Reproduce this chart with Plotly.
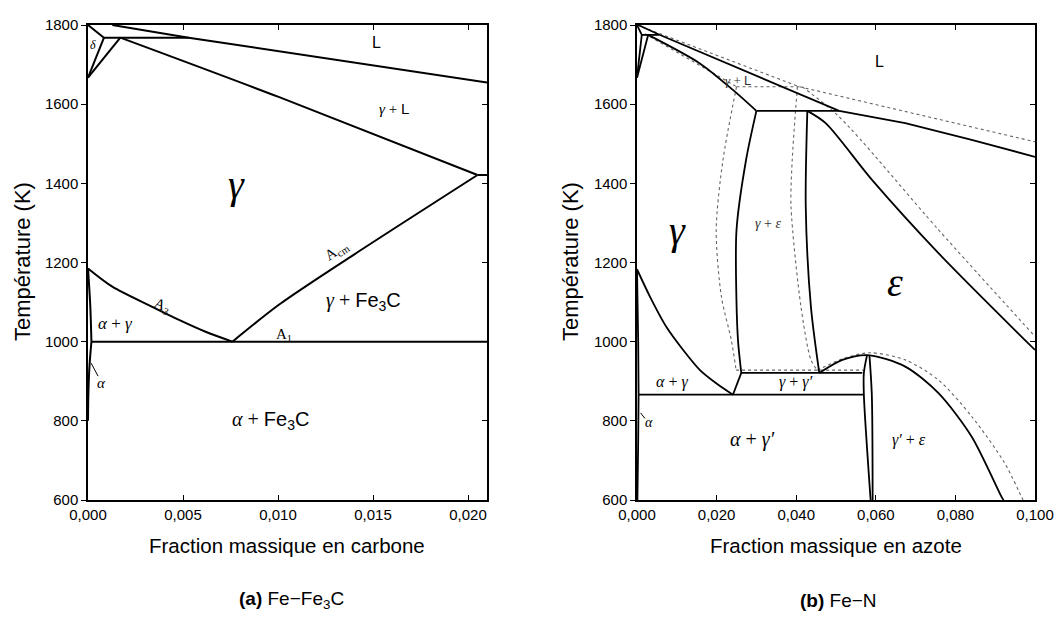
import plotly.graph_objects as go

# ---------------- Data: (a) Fe-Fe3C ----------------
a_liq_x = [0.00128, 0.0053, 0.0210]; a_liq_T = [1800, 1768, 1655]
a_dL_x = [0.0, 0.00084]; a_dL_T = [1800, 1768]
a_peri_x = [0.00084, 0.0053]; a_peri_T = [1768, 1768]
a_dg_x = [0.0, 0.00084]; a_dg_T = [1667, 1768]
a_gd_x = [0.0, 0.0017]; a_gd_T = [1667, 1768]
a_sol_x = [0.0017, 0.0101, 0.0205]; a_sol_T = [1768, 1617, 1421]
a_eut_x = [0.0205, 0.0210]; a_eut_T = [1421, 1421]
a_A3_x = [0.0, 0.00128, 0.00338, 0.00479, 0.00619, 0.0076]
a_A3_T = [1185, 1139, 1088, 1055, 1025, 1000]
a_Acm_x = [0.0076, 0.0101, 0.0140, 0.0205]; a_Acm_T = [1000, 1095, 1220, 1421]
a_A1_x = [0.00018, 0.0210]; a_A1_T = [1000, 1000]
a_ag_x = [0.0, 0.00012, 0.00018]; a_ag_T = [1185, 1090, 1000]
a_asolv_x = [0.00018, 0.00008, 0.00002, 0.0]; a_asolv_T = [1000, 940, 870, 800]

# ---------------- Data: (b) Fe-N ----------------
b_liq_x = [0.0003, 0.0055, 0.0508, 0.0674, 0.0841, 0.1000]
b_liq_T = [1800, 1776, 1583, 1552, 1510, 1467]
b_dL_x = [0.0, 0.0012]; b_dL_T = [1800, 1775]
b_peri1_x = [0.0012, 0.0055]; b_peri1_T = [1775, 1775]
b_dg_x = [0.0, 0.0012]; b_dg_T = [1667, 1775]
b_gd_x = [0.0, 0.0028]; b_gd_T = [1667, 1775]
b_sol_x = [0.0028, 0.0158, 0.0241, 0.0300]; b_sol_T = [1775, 1703, 1636, 1583]
b_peri2_x = [0.0300, 0.0508]; b_peri2_T = [1583, 1583]
b_ge_x = [0.0300, 0.0274, 0.0250, 0.0250, 0.0254, 0.0262]
b_ge_T = [1583, 1459, 1282, 1100, 1000, 921]
b_ggp_x = [0.0262, 0.0241]; b_ggp_T = [921, 866]
b_ga_x = [0.0, 0.00325, 0.0074, 0.0116, 0.01575, 0.0199, 0.0241]
b_ga_T = [1183, 1114, 1037, 979, 929, 895, 866]
b_ag_x = [0.0, 0.0003, 0.0004]; b_ag_T = [1183, 1000, 866]
b_asolv_x = [0.0004, 0.0003, 0.0001]; b_asolv_T = [866, 750, 600]
b_eutd_x = [0.0004, 0.0570]; b_eutd_T = [866, 866]
b_h921_x = [0.0262, 0.0566]; b_h921_T = [921, 921]
b_el_x = [0.0428, 0.0424, 0.0437, 0.0458]; b_el_T = [1583, 1341, 1088, 921]
b_er_x = [0.0428, 0.0474, 0.0591, 0.0758, 0.1000]; b_er_T = [1583, 1552, 1408, 1223, 979]
b_dome_x = [0.0458, 0.0516, 0.0580, 0.0674, 0.07575, 0.0841, 0.0916, 0.0921]
b_dome_T = [921, 954, 966, 937, 870, 760, 608, 600]
b_gp1_x = [0.0578, 0.0570, 0.0570, 0.0587]; b_gp1_T = [966, 921, 866, 600]
b_gp2_x = [0.0584, 0.0590, 0.0592]; b_gp2_T = [966, 866, 600]

# dotted (alternative model)
d_liq_x = [0.0, 0.0408, 0.1000]; d_liq_T = [1800, 1644, 1505]
d_sol_x = [0.0020, 0.0250]; d_sol_T = [1778, 1644]
d_peri_x = [0.0250, 0.0408]; d_peri_T = [1644, 1644]
d_ge_x = [0.0250, 0.0216, 0.0199, 0.0212, 0.0237, 0.0249]
d_ge_T = [1644, 1459, 1282, 1114, 1004, 928]
d_el_x = [0.0403, 0.0390, 0.0387, 0.0412, 0.0437, 0.0453]
d_el_T = [1644, 1459, 1341, 1088, 954, 928]
d_er_x = [0.0415, 0.0508, 0.0758, 0.1000]; d_er_T = [1644, 1568, 1282, 1013]
d_h928_x = [0.0249, 0.0568]; d_h928_T = [928, 928]
d_dome_x = [0.0453, 0.0520, 0.0585, 0.0674, 0.07575, 0.0841, 0.0924, 0.0966, 0.0970]
d_dome_T = [928, 958, 972, 954, 903, 811, 693, 608, 600]

y_ticks = [600, 800, 1000, 1200, 1400, 1600, 1800]
y_ticktext = [str(v) for v in y_ticks]
a_xticks = [0.0, 0.005, 0.010, 0.015, 0.020]
a_xticktext = ["0,000", "0,005", "0,010", "0,015", "0,020"]
b_xticks = [0.0, 0.02, 0.04, 0.06, 0.08, 0.10]
b_xticktext = ["0,000", "0,020", "0,040", "0,060", "0,080", "0,100"]

fig = go.Figure()

def solid(x, y, xa, ya, shape="spline", w=2):
    fig.add_trace(go.Scatter(x=x, y=y, mode="lines", xaxis=xa, yaxis=ya,
                             line=dict(color="black", width=w, shape=shape, smoothing=0.8),
                             hoverinfo="skip", showlegend=False))

def dotted(x, y, xa, ya, shape="spline"):
    fig.add_trace(go.Scatter(x=x, y=y, mode="lines", xaxis=xa, yaxis=ya,
                             line=dict(color="#666666", width=1.1, dash="dot", shape=shape, smoothing=0.8),
                             hoverinfo="skip", showlegend=False))

# panel a
for xs, ts, sh in [(a_liq_x, a_liq_T, "linear"), (a_dL_x, a_dL_T, "linear"), (a_peri_x, a_peri_T, "linear"),
                   (a_dg_x, a_dg_T, "linear"), (a_gd_x, a_gd_T, "linear"), (a_sol_x, a_sol_T, "spline"),
                   (a_eut_x, a_eut_T, "linear"), (a_A3_x, a_A3_T, "spline"), (a_Acm_x, a_Acm_T, "spline"),
                   (a_A1_x, a_A1_T, "linear"), (a_ag_x, a_ag_T, "spline"), (a_asolv_x, a_asolv_T, "spline")]:
    solid(xs, ts, "x", "y", sh)

# panel b dotted first
for xs, ts, sh in [(d_liq_x, d_liq_T, "linear"), (d_sol_x, d_sol_T, "linear"), (d_peri_x, d_peri_T, "linear"),
                   (d_ge_x, d_ge_T, "spline"), (d_el_x, d_el_T, "spline"), (d_er_x, d_er_T, "spline"),
                   (d_h928_x, d_h928_T, "linear"), (d_dome_x, d_dome_T, "spline")]:
    dotted(xs, ts, "x2", "y2", sh)

for xs, ts, sh in [(b_liq_x, b_liq_T, "linear"), (b_dL_x, b_dL_T, "linear"), (b_peri1_x, b_peri1_T, "linear"),
                   (b_dg_x, b_dg_T, "linear"), (b_gd_x, b_gd_T, "linear"), (b_sol_x, b_sol_T, "spline"),
                   (b_peri2_x, b_peri2_T, "linear"), (b_ge_x, b_ge_T, "spline"), (b_ggp_x, b_ggp_T, "linear"),
                   (b_ga_x, b_ga_T, "spline"), (b_ag_x, b_ag_T, "spline"), (b_asolv_x, b_asolv_T, "spline"),
                   (b_eutd_x, b_eutd_T, "linear"), (b_h921_x, b_h921_T, "linear"), (b_el_x, b_el_T, "spline"),
                   (b_er_x, b_er_T, "spline"), (b_dome_x, b_dome_T, "spline"), (b_gp1_x, b_gp1_T, "spline"),
                   (b_gp2_x, b_gp2_T, "spline")]:
    solid(xs, ts, "x2", "y2", sh, w=1.8)

# dummy traces so right-side tick axes render
fig.add_trace(go.Scatter(x=[None], y=[None], xaxis="x", yaxis="y3", showlegend=False, hoverinfo="skip"))
fig.add_trace(go.Scatter(x=[None], y=[None], xaxis="x2", yaxis="y4", showlegend=False, hoverinfo="skip"))

SANS = "Liberation Sans, Arial, sans-serif"
SERIF = "Liberation Serif, Times New Roman, serif"
yd = [1 - 500 / 621, 1 - 25 / 621]
common_x = dict(ticks="inside", ticklen=5, tickwidth=1, tickcolor="black", mirror="ticks",
                showline=True, linecolor="black", linewidth=1.5, showgrid=False, zeroline=False,
                automargin=False, tickfont=dict(family=SANS, size=15, color="black"))
common_y = dict(ticks="outside", ticklen=5, tickwidth=1, tickcolor="black", mirror=True,
                showline=True, linecolor="black", linewidth=1.5, showgrid=False, zeroline=False,
                automargin=False, range=[600, 1800], tickvals=y_ticks, ticktext=y_ticktext,
                tickfont=dict(family=SANS, size=15, color="black"))
right_ticks = dict(ticks="inside", ticklen=5, tickwidth=1, tickcolor="black", showline=False,
                   showgrid=False, zeroline=False, automargin=False, range=[600, 1800], tickvals=y_ticks,
                   showticklabels=False, side="right")

fig.update_layout(
    width=1059, height=621, margin=dict(l=0, r=0, t=0, b=0, autoexpand=False),
    paper_bgcolor="white", plot_bgcolor="white", showlegend=False,
    xaxis=dict(domain=[88 / 1059, 487 / 1059], range=[0, 0.021], tickvals=a_xticks, ticktext=a_xticktext,
               anchor="y", **common_x),
    yaxis=dict(domain=yd, anchor="x", **common_y),
    xaxis2=dict(domain=[637 / 1059, 1035 / 1059], range=[0, 0.100], tickvals=b_xticks, ticktext=b_xticktext,
                anchor="y2", **common_x),
    yaxis2=dict(domain=yd, anchor="x2", **common_y),
    yaxis3=dict(overlaying="y", anchor="x", **right_ticks),
    yaxis4=dict(overlaying="y2", anchor="x2", **right_ticks),
)

def ann(text, x, y, xref, yref, size, family=SERIF, angle=0, color="black"):
    fig.add_annotation(text=text, x=x, y=y, xref=xref, yref=yref, showarrow=False,
                       font=dict(family=family, size=size, color=color), textangle=angle,
                       xanchor="center", yanchor="middle")

def sp(t):
    return '<span style="font-family:Liberation Serif">' + t + '</span>'

# panel a labels
ann("<i>δ</i>", 0.00024, 1749, "x", "y", 12)
ann("L", 0.0152, 1757, "x", "y", 16, SANS)
ann(sp("<i>γ</i> + ") + "L", 0.0161, 1590, "x", "y", 15, SANS)
ann("<i>γ</i>", 0.00784, 1396, "x", "y", 40)
ann("A<sub>cm</sub>", 0.0131, 1228, "x", "y", 15, angle=-34)
ann("A<sub>3</sub>", 0.0039, 1090, "x", "y", 15, angle=22)
ann(sp("<i>γ</i> + ") + "Fe<sub>3</sub>C", 0.0145, 1101, "x", "y", 20, SANS)
ann("<i>α</i> + <i>γ</i>", 0.00146, 1046, "x", "y", 17)
ann("A<sub>1</sub>", 0.0103, 1016, "x", "y", 15)
ann("<i>α</i>", 0.00072, 896, "x", "y", 15)
ann(sp("<i>α</i> + ") + "Fe<sub>3</sub>C", 0.00962, 802, "x", "y", 20, SANS)

# panel b labels
ann("L", 0.061, 1707, "x2", "y2", 16, SANS)
ann(sp("<i>γ</i> + ") + "L", 0.0255, 1660, "x2", "y2", 13, SANS, color="#333")
ann("<i>γ</i>", 0.01025, 1282, "x2", "y2", 40)
ann("<i>γ</i> + <i>ε</i>", 0.0328, 1299, "x2", "y2", 14, color="#333")
ann("<i>ε</i>", 0.0649, 1150, "x2", "y2", 40)
ann("<i>α</i> + <i>γ</i>", 0.0087, 897, "x2", "y2", 16)
ann("<i>γ</i> + <i>γ′</i>", 0.0400, 897, "x2", "y2", 16)
ann("<i>α</i> + <i>γ′</i>", 0.0290, 752, "x2", "y2", 20)
ann("<i>γ′</i> + <i>ε</i>", 0.0683, 752, "x2", "y2", 16)
ann("<i>α</i>", 0.0031, 797, "x2", "y2", 14)

# pointer ticks for alpha
fig.add_shape(type="line", x0=0.00016, y0=946, x1=0.00053, y1=913, xref="x", yref="y",
              line=dict(color="black", width=1))
fig.add_shape(type="line", x0=0.0009, y0=820, x1=0.0020, y1=806, xref="x2", yref="y2",
              line=dict(color="black", width=1))

# axis titles and captions
ann("Température (K)", 22 / 1059, 1 - 262 / 621, "paper", "paper", 22, SANS, angle=-90)
ann("Température (K)", 570 / 1059, 1 - 262 / 621, "paper", "paper", 22, SANS, angle=-90)
ann("Fraction massique en carbone", 287 / 1059, 1 - 545 / 621, "paper", "paper", 20.5, SANS)
ann("Fraction massique en azote", 836 / 1059, 1 - 545 / 621, "paper", "paper", 20.5, SANS)
ann("<b>(a)</b> Fe−Fe<sub>3</sub>C", 291 / 1059, 1 - 600 / 621, "paper", "paper", 19, SANS)
ann("<b>(b)</b> Fe−N", 838 / 1059, 1 - 600 / 621, "paper", "paper", 19, SANS)

fig.write_html("out.html")
